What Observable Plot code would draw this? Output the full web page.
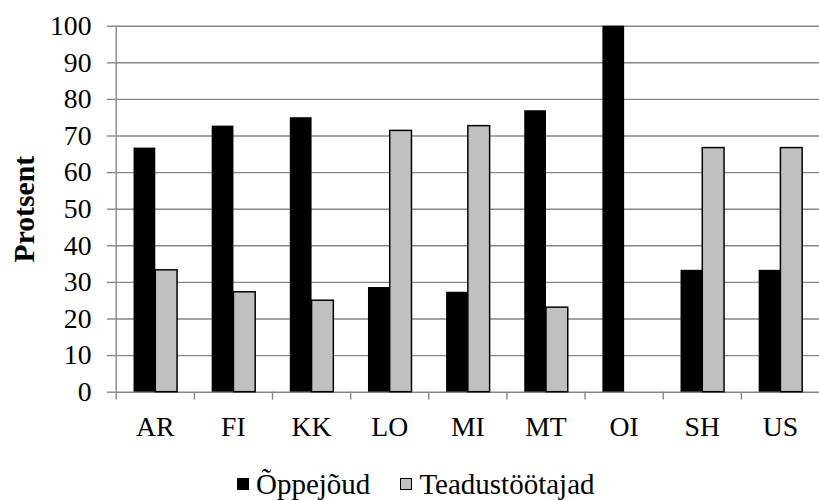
<!DOCTYPE html>
<html><head><meta charset="utf-8">
<script src="https://cdn.jsdelivr.net/npm/d3@7"></script>
<script src="https://cdn.jsdelivr.net/npm/@observablehq/plot@0.6"></script>
<style>
html,body{margin:0;padding:0;background:#fff;overflow:hidden;}
#wrap{position:relative;width:819px;height:500px;overflow:hidden;font-family:"Liberation Serif","Times New Roman",serif;}
#chart{position:absolute;left:0;top:0;}
#chart svg, #chart svg text{font-family:"Liberation Serif","Times New Roman",serif !important;}
#legend{position:absolute;left:237px;top:468px;display:flex;align-items:center;font-size:29px;line-height:32px;color:#000;white-space:nowrap;}
.sw{display:inline-block;width:12px;height:12px;box-sizing:border-box;margin-right:7px;}
</style></head><body>
<div id="wrap"><div id="chart"></div><div id="legend"></div></div>
<script>
const categories = ["AR","FI","KK","LO","MI","MT","OI","SH","US"];
const seriesNames = ["Õppejõud","Teadustöötajad"];
const oppejoud = [66.7,72.7,75,28.6,27.3,76.9,100,33.3,33.3];
const teadustootajad = [33.3,27.3,25,71.4,72.7,23.1,0,66.7,66.7];
const yTicks = [0,10,20,30,40,50,60,70,80,90,100];
const yLabel = "Protsent";

const font = '"Liberation Serif","Times New Roman",serif';
const colors = {[seriesNames[0]]: "#000000", [seriesNames[1]]: "#c0c0c0"};
const rows0 = categories.map((c,i)=>({category:c, series:seriesNames[0], value:oppejoud[i]}));
const rows1 = categories.map((c,i)=>({category:c, series:seriesNames[1], value:teadustootajad[i]}));
const grid = "#868686";
const halfBand = -39.5;

const chart = Plot.plot({
  width: 828, height: 460,
  marginLeft: 117, marginRight: 0, marginTop: 26, marginBottom: 64,
  style: {fontFamily: font, fontSize: "28px", color: "#000", background: "#fff", overflow: "visible"},
  x: {domain: categories, padding: 0, axis: null},
  y: {domain: [0,100], axis: null},
  marks: [
    Plot.gridY(yTicks, {stroke: grid, strokeOpacity: 1, strokeWidth: 1.4}),
    Plot.barY(rows0, {x: "category", y: "value", fill: colors[seriesNames[0]], insetLeft: 18, insetRight: 39}),
    Plot.barY(rows1.filter(d=>d.value>0), {x: "category", y: "value", fill: colors[seriesNames[1]], stroke: "#000", strokeWidth: 1.5, insetLeft: 40, insetRight: 17}),
    Plot.ruleX([categories[0]], {x: d=>d, y1: 0, y2: 100, dx: halfBand, stroke: grid, strokeWidth: 1.4}),
    Plot.ruleX(categories, {x: d=>d, y1: 0, y2: 0, insetBottom: -8, dx: halfBand, stroke: grid, strokeWidth: 1.4}),
    Plot.axisX(categories, {tickSize: 0, tickPadding: 24, fontSize: 28, fontFamily: font, label: null}),
    Plot.axisY(yTicks, {tickSize: 9, tickPadding: 16, stroke: grid, strokeWidth: 1.4, fontSize: 28, fontFamily: font, label: null}),
    Plot.text([yLabel], {frameAnchor: "left", textAnchor: "middle", rotate: -90, dx: -93, fontWeight: "bold", fontSize: 30, fontFamily: font, text: d=>d})
  ]
});
document.getElementById("chart").appendChild(chart);

const legend = document.getElementById("legend");
seriesNames.forEach((s,i)=>{
  const item = document.createElement("span");
  item.style.display = "inline-flex";
  item.style.alignItems = "center";
  item.style.marginRight = i === 0 ? "30px" : "0";
  const sw = document.createElement("span");
  sw.className = "sw";
  sw.style.background = colors[s];
  if (i === 1) sw.style.border = "1.5px solid #000";
  const t = document.createElement("span");
  t.textContent = s;
  item.appendChild(sw); item.appendChild(t);
  legend.appendChild(item);
});
</script>
</body></html>
